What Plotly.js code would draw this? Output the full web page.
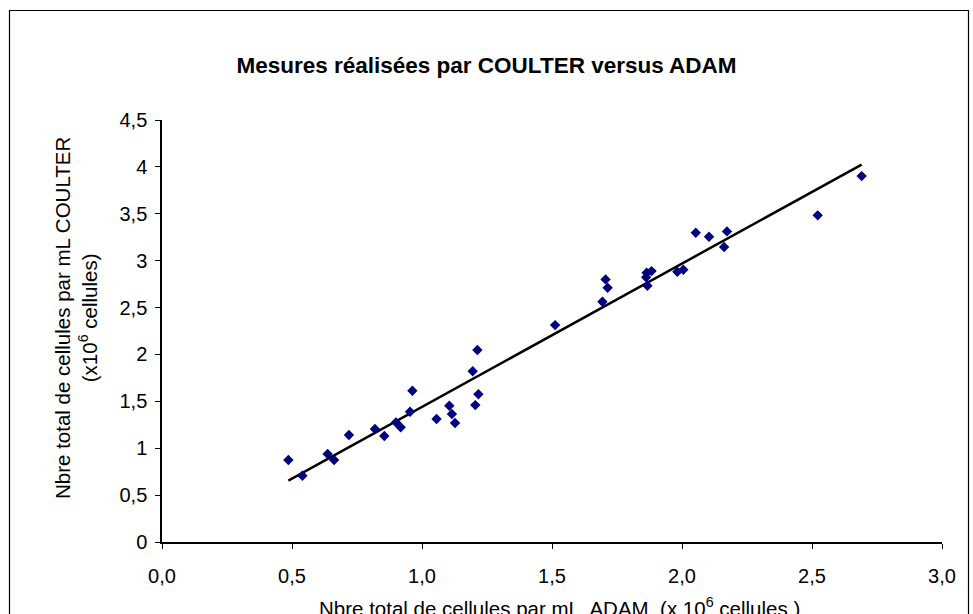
<!DOCTYPE html>
<html>
<head>
<meta charset="utf-8">
<script src="https://cdn.plot.ly/plotly-3.0.1.min.js"></script>
<style>
html,body{margin:0;padding:0;background:#fff;}
#chart{width:973px;height:614px;}
</style>
</head>
<body>
<div id="chart"></div>
<script>
// Data (x: ADAM, y: COULTER, x10^6 cells/mL)
const adam = [0.486, 0.540, 0.637, 0.662, 0.719, 0.819, 0.855, 0.900, 0.918, 0.954,
              0.963, 1.056, 1.105, 1.115, 1.127, 1.195, 1.205, 1.213, 1.217, 1.512,
              1.694, 1.706, 1.714, 1.862, 1.864, 1.867, 1.883, 1.982, 2.005, 2.053,
              2.104, 2.162, 2.173, 2.522, 2.691];
const coulter = [0.874, 0.707, 0.938, 0.874, 1.141, 1.205, 1.130, 1.276, 1.223, 1.389,
                 1.613, 1.311, 1.453, 1.365, 1.269, 1.820, 1.460, 2.047, 1.575, 2.313,
                 2.562, 2.800, 2.711, 2.822, 2.871, 2.733, 2.889, 2.882, 2.903, 3.298,
                 3.255, 3.145, 3.312, 3.483, 3.902];
const xTicks = [0, 0.5, 1, 1.5, 2, 2.5, 3];
const yTicks = [0, 0.5, 1, 1.5, 2, 2.5, 3, 3.5, 4, 4.5];

// Linear (least squares) trendline, as in the spreadsheet chart
const n = adam.length;
const mx = adam.reduce((a,b)=>a+b,0)/n;
const my = coulter.reduce((a,b)=>a+b,0)/n;
let sxy = 0, sxx = 0;
for (let i=0;i<n;i++){ sxy += (adam[i]-mx)*(coulter[i]-my); sxx += (adam[i]-mx)**2; }
const slope = sxy/sxx, icpt = my - slope*mx;
const xMin = Math.min(...adam), xMax = Math.max(...adam);
const trendX = [xMin, xMax];
const trendY = trendX.map(x => icpt + slope*x);

const FONT = 'Liberation Sans, Arial, sans-serif';

const traces = [
  {x: trendX, y: trendY, type: 'scatter', mode: 'lines',
   line: {color: '#000000', width: 2.5}, hoverinfo: 'skip', showlegend: false},
  {x: adam, y: coulter, type: 'scatter', mode: 'markers',
   marker: {symbol: 'diamond', size: 8, color: '#000080', line: {width: 0}},
   showlegend: false}
];

const L = 162, R = 31, T = 120, B = 72;
const PW = 973 - L - R, PH = 614 - T - B;
const px2x = p => (p - L) / PW;
const px2y = p => (614 - B - p) / PH;

const layout = {
  width: 973, height: 614, autosize: false,
  paper_bgcolor: '#ffffff', plot_bgcolor: '#ffffff',
  separators: ', ',
  margin: {l: L, r: R, t: T, b: B, pad: 0},
  font: {family: FONT, color: '#000000', size: 20},
  title: {text: 'Mesures réalisées par COULTER versus ADAM',
          font: {family: FONT, size: 22.5, weight: 'bold', color: '#000'},
          x: 0.5, xref: 'container', xanchor: 'center',
          y: 1 - 65/614, yref: 'container', yanchor: 'middle'},
  xaxis: {range: [0, 3], tickvals: xTicks, tickformat: '.1f',
          showgrid: false, zeroline: false, showline: true, linecolor: '#000', linewidth: 1.7,
          ticks: 'outside', ticklen: 5, tickwidth: 1, tickcolor: '#000',
          tickfont: {family: FONT, size: 20, color: '#000'}, ticklabelstandoff: 10,
          fixedrange: true},
  yaxis: {range: [0, 4.5], tickvals: yTicks,
          showgrid: false, zeroline: false, showline: true, linecolor: '#000', linewidth: 1.7,
          ticks: 'outside', ticklen: 5, tickwidth: 1, tickcolor: '#000',
          tickfont: {family: FONT, size: 20, color: '#000'}, ticklabelstandoff: 4,
          fixedrange: true},
  annotations: [
    {text: 'Nbre total de cellules par mL COULTER<br>(x10<sup>6</sup> cellules)',
     xref: 'paper', yref: 'paper', x: px2x(76), y: px2y(318),
     xanchor: 'center', yanchor: 'middle', textangle: -90, showarrow: false,
     font: {family: FONT, size: 20.5, color: '#000'}},
    {text: 'Nbre total de cellules par mL  ADAM  (x 10<sup>6</sup> cellules )',
     xref: 'paper', yref: 'paper', x: px2x(559), y: px2y(607),
     xanchor: 'center', yanchor: 'middle', showarrow: false,
     font: {family: FONT, size: 20.5, color: '#000'}}
  ],
  shapes: [
    {type: 'rect', xref: 'paper', yref: 'paper', layer: 'above',
     x0: px2x(9.5), x1: px2x(968.5), y0: px2y(10.5), y1: px2y(640),
     line: {color: '#000', width: 1.2}, fillcolor: 'rgba(0,0,0,0)'}
  ]
};

Plotly.newPlot('chart', traces, layout, {displayModeBar: false, staticPlot: true});
</script>
</body>
</html>
